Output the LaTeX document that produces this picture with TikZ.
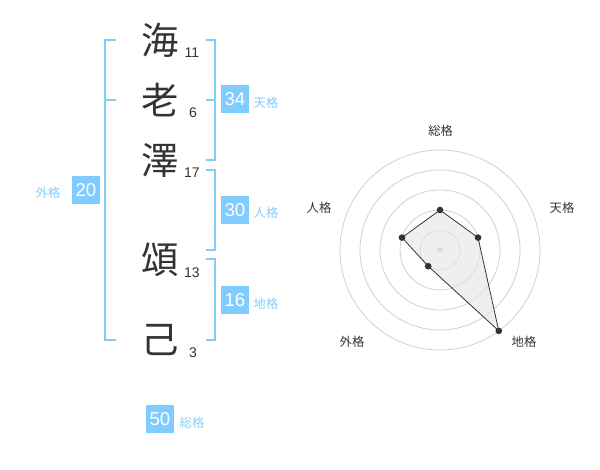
\documentclass[tikz,border=0pt]{standalone}
\usepackage{fontspec}
\setmainfont{Liberation Sans}
\newfontfamily\cjk{Noto Sans CJK JP}
\definecolor{bracket}{RGB}{130,204,250}
\definecolor{boxblue}{RGB}{128,204,255}
\definecolor{lbl}{RGB}{135,205,245}
\definecolor{txt}{RGB}{51,51,51}
\definecolor{ring}{RGB}{208,208,208}
\begin{document}
\begin{tikzpicture}[x=0.75pt,y=-0.75pt,
  bigchar/.style={inner sep=0pt,font=\cjk\fontsize{28}{28}\selectfont,text=txt},
  strokes/.style={inner sep=0pt,font=\fontsize{10.5}{10.5}\selectfont,text=txt},
  numbox/.style={fill=boxblue,text=white,minimum width=21pt,minimum height=21pt,inner sep=0pt,font=\fontsize{14}{14}\selectfont},
  kaku/.style={inner sep=0pt,text=lbl,font=\cjk\fontsize{9.2}{9.2}\selectfont},
  brk/.style={draw=bracket,line width=1.5pt},
  radlbl/.style={inner sep=0pt,text=txt,font=\cjk\fontsize{9.2}{9.2}\selectfont},
  dot/.style={circle,fill=txt,inner sep=0pt,minimum size=5pt}]
\useasboundingbox (0,0) rectangle (600,470);
% characters
\node[bigchar] (c1) at (160,40) {海};
\node[bigchar] (c2) at (160,100) {老};
\node[bigchar] (c3) at (160,160) {澤};
\node[bigchar] (c4) at (160,260) {頌};
\node[bigchar] (c5) at (160,340) {己};
\node[strokes] (s1) at (192,53) {11};
\node[strokes] (s2) at (193,113) {6};
\node[strokes] (s3) at (192,173) {17};
\node[strokes] (s4) at (192,273) {13};
\node[strokes] (s5) at (193,353) {3};
% brackets
\coordinate (la) at (116,40); \coordinate (lb) at (105,40);
\coordinate (lc) at (105,340); \coordinate (ld) at (116,340);
\coordinate (lm1) at (105,100); \coordinate (lm2) at (116,100);
\draw[brk] (la) -- (lb) -- (lc) -- (ld);
\draw[brk] (lm1) -- (lm2);
\coordinate (ta) at (206,40); \coordinate (tb) at (215,40);
\coordinate (tc) at (215,160); \coordinate (td) at (206,160);
\coordinate (tm1) at (206,100); \coordinate (tm2) at (215,100);
\draw[brk] (ta) -- (tb) -- (tc) -- (td);
\draw[brk] (tm1) -- (tm2);
\coordinate (ja) at (206,170); \coordinate (jb) at (215,170);
\coordinate (jc) at (215,250); \coordinate (jd) at (206,250);
\draw[brk] (ja) -- (jb) -- (jc) -- (jd);
\coordinate (ca) at (206,259); \coordinate (cb) at (215,259);
\coordinate (cc) at (215,340); \coordinate (cd) at (206,340);
\draw[brk] (ca) -- (cb) -- (cc) -- (cd);
% boxes and labels
\node[numbox] (b34) at (235,99) {34};
\node[kaku] (k34) at (266,103) {天格};
\node[numbox] (b30) at (235,210) {30};
\node[kaku] (k30) at (266,213) {人格};
\node[numbox] (b16) at (235,300) {16};
\node[kaku] (k16) at (266,304) {地格};
\node[numbox] (b20) at (86,190) {20};
\node[kaku] (k20) at (48,193) {外格};
\node[numbox] (b50) at (160,419) {50};
\node[kaku] (k50) at (192,423) {総格};
% radar
\coordinate (rc) at (440,250);
\foreach \r in {20,40,60,80,100} \draw[ring,line width=0.6pt] (rc) circle (\r);
\fill[ring] (rc) circle (2.3pt);
\coordinate (p1) at (440,210);
\coordinate (p2) at (478.0,237.6);
\coordinate (p3) at (498.8,330.9);
\coordinate (p4) at (428.2,266.2);
\coordinate (p5) at (402.0,237.6);
\filldraw[fill=black!10,fill opacity=0.6,draw=txt,line width=0.6pt] (p1) -- (p2) -- (p3) -- (p4) -- (p5) -- cycle;
\foreach \p in {p1,p2,p3,p4,p5} \node[dot] at (\p) {};
\node[radlbl] (r1) at (440.7,130.7) {総格};
\node[radlbl] (r2) at (562,208) {天格};
\node[radlbl] (r3) at (319,208) {人格};
\node[radlbl] (r4) at (352,342) {外格};
\node[radlbl] (r5) at (524,342) {地格};
\end{tikzpicture}
\end{document}
